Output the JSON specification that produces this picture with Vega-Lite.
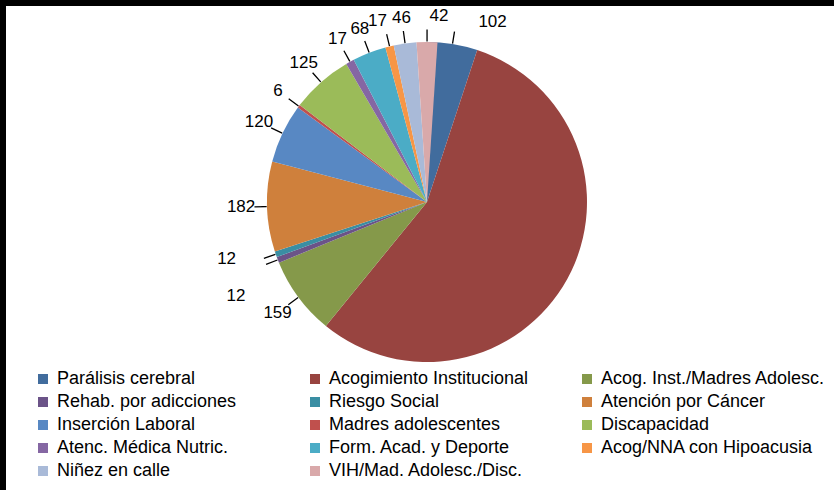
{
  "$schema": "https://vega.github.io/schema/vega-lite/v6.json",
  "width": 828,
  "height": 484,
  "autosize": {"type": "none"},
  "padding": {"left": 6, "top": 6, "right": 0, "bottom": 0},
  "background": "black",
  "view": {"stroke": null, "fill": "white"},
  "config": {
    "view": {"stroke": null, "fill": "white"},
    "font": "Liberation Sans"
  },
  "data": {
    "values": [
      {"order": 1, "name": "Parálisis cerebral", "value": 102},
      {"order": 2, "name": "Acogimiento Institucional", "value": 1120},
      {"order": 3, "name": "Acog. Inst./Madres Adolesc.", "value": 159},
      {"order": 4, "name": "Rehab. por adicciones", "value": 12},
      {"order": 5, "name": "Riesgo Social", "value": 12},
      {"order": 6, "name": "Atención por Cáncer", "value": 182},
      {"order": 7, "name": "Inserción Laboral", "value": 120},
      {"order": 8, "name": "Madres adolescentes", "value": 6},
      {"order": 9, "name": "Discapacidad", "value": 125},
      {"order": 10, "name": "Atenc. Médica Nutric.", "value": 17},
      {"order": 11, "name": "Form. Acad. y Deporte", "value": 68},
      {"order": 12, "name": "Acog/NNA con Hipoacusia", "value": 17},
      {"order": 13, "name": "Niñez en calle", "value": 46},
      {"order": 14, "name": "VIH/Mad. Adolesc./Disc.", "value": 42}
    ]
  },
  "transform": [
    {"stack": "value", "groupby": [], "sort": [{"field": "order"}], "as": ["v0", "v1"]},
    {"calculate": "(datum.v0 + datum.v1) / 2", "as": "mid"},
    {"calculate": "datum.mid + 0.2", "as": "mid2"}
  ],
  "layer": [
    {
      "mark": {"type": "arc", "radius": 160, "xOffset": 7, "yOffset": -46},
      "encoding": {
        "theta": {"field": "v0", "type": "quantitative", "scale": {"zero": true, "nice": false}},
        "theta2": {"field": "v1"},
        "color": {
          "field": "name",
          "type": "nominal",
          "scale": {
            "domain": ["Parálisis cerebral", "Acogimiento Institucional", "Acog. Inst./Madres Adolesc.", "Rehab. por adicciones", "Riesgo Social", "Atención por Cáncer", "Inserción Laboral", "Madres adolescentes", "Discapacidad", "Atenc. Médica Nutric.", "Form. Acad. y Deporte", "Acog/NNA con Hipoacusia", "Niñez en calle", "VIH/Mad. Adolesc./Disc."],
            "range": ["#416C9D", "#984440", "#85994A", "#6B5388", "#3A8EA3", "#CF803C", "#5888C3", "#C0504D", "#9BBB59", "#8567A3", "#4BACC6", "#F79646", "#A9BAD8", "#D9A9AA"]
          },
          "legend": {
            "orient": "none",
            "legendX": 28,
            "legendY": 364,
            "direction": "horizontal",
            "columns": 3,
            "title": null,
            "symbolType": "square",
            "symbolSize": 100,
            "symbolStrokeWidth": 0,
            "labelFontSize": 18,
            "labelColor": "black",
            "labelLimit": 400,
            "labelOffset": 5,
            "gridAlign": "all",
            "columnPadding": 24,
            "rowPadding": 5
          }
        }
      }
    },
    {
      "transform": [{"filter": "datum.name != 'Acogimiento Institucional'"}],
      "mark": {"type": "arc", "radius": 172, "radius2": 161, "filled": false, "stroke": "black", "strokeWidth": 1.2, "xOffset": 7, "yOffset": -46},
      "encoding": {
        "theta": {"field": "mid", "type": "quantitative", "stack": null},
        "theta2": {"field": "mid2"}
      }
    },
    {
      "transform": [{"filter": "indexof(['Acogimiento Institucional','Rehab. por adicciones','Riesgo Social','Parálisis cerebral','VIH/Mad. Adolesc./Disc.','Acog/NNA con Hipoacusia'], datum.name) < 0"}],
      "mark": {"type": "text", "radius": 186, "fontSize": 17, "color": "black", "xOffset": 7, "yOffset": -46},
      "encoding": {
        "theta": {"field": "mid", "type": "quantitative", "stack": null},
        "text": {"field": "value", "type": "quantitative"}
      }
    },
    {
      "transform": [{"filter": "datum.name == 'Acog/NNA con Hipoacusia'"}],
      "mark": {"type": "text", "radius": 186, "fontSize": 17, "color": "black", "xOffset": 1, "yOffset": -46},
      "encoding": {
        "theta": {"field": "mid", "type": "quantitative", "stack": null},
        "text": {"field": "value", "type": "quantitative"}
      }
    },
    {
      "transform": [{"filter": "datum.name == 'VIH/Mad. Adolesc./Disc.'"}],
      "mark": {"type": "text", "radius": 186, "fontSize": 17, "color": "black", "xOffset": 19, "yOffset": -46},
      "encoding": {
        "theta": {"field": "mid", "type": "quantitative", "stack": null},
        "text": {"field": "value", "type": "quantitative"}
      }
    },
    {
      "transform": [{"filter": "datum.name == 'Parálisis cerebral'"}],
      "mark": {"type": "text", "radius": 186, "fontSize": 17, "color": "black", "xOffset": 43, "yOffset": -42},
      "encoding": {
        "theta": {"field": "mid", "type": "quantitative", "stack": null},
        "text": {"field": "value", "type": "quantitative"}
      }
    },
    {
      "transform": [{"filter": "datum.name == 'Riesgo Social'"}],
      "mark": {"type": "text", "radius": 212, "fontSize": 17, "color": "black", "xOffset": 7, "yOffset": -58},
      "encoding": {
        "theta": {"field": "mid", "type": "quantitative", "stack": null},
        "text": {"field": "value", "type": "quantitative"}
      }
    },
    {
      "transform": [{"filter": "datum.name == 'Rehab. por adicciones'"}],
      "mark": {"type": "text", "radius": 205, "fontSize": 17, "color": "black", "xOffset": 7, "yOffset": -26},
      "encoding": {
        "theta": {"field": "mid", "type": "quantitative", "stack": null},
        "text": {"field": "value", "type": "quantitative"}
      }
    }
  ]
}
